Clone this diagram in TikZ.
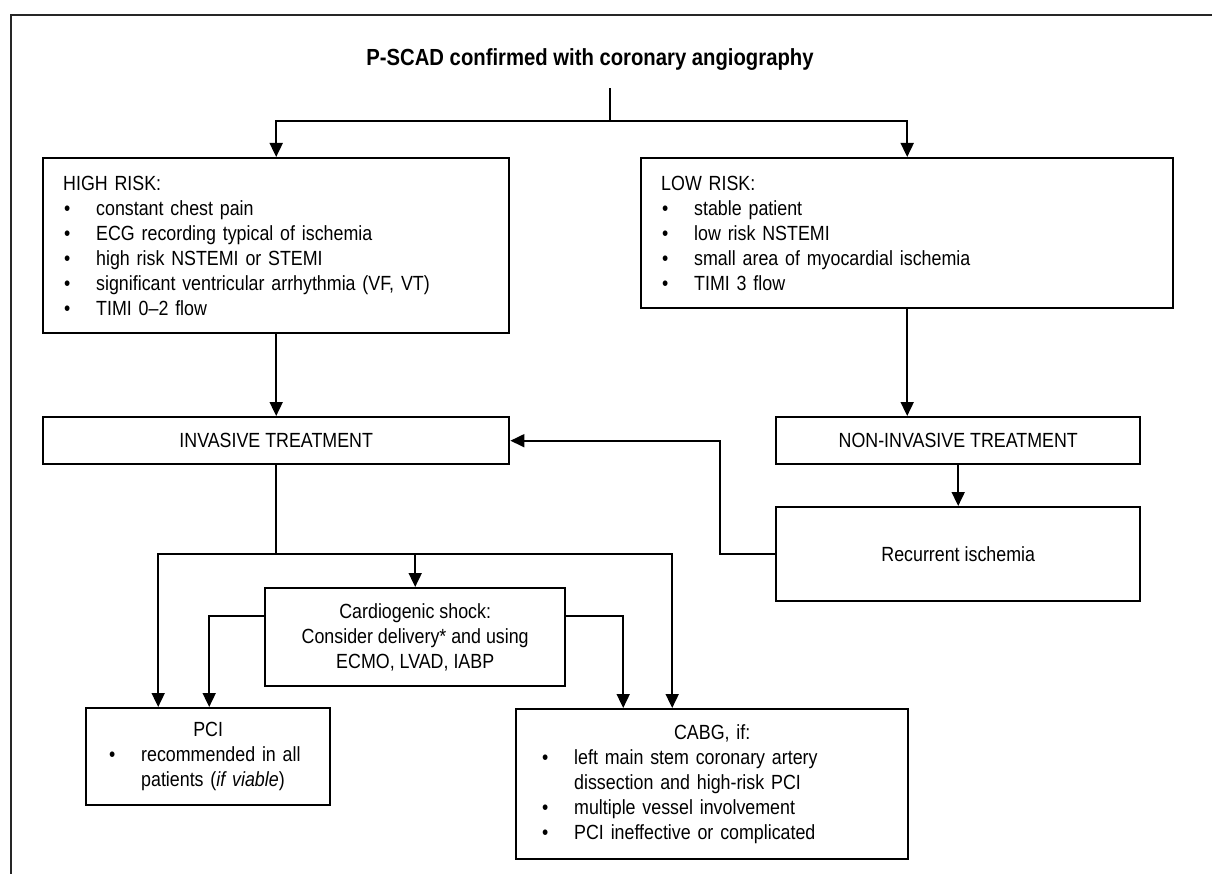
\documentclass[tikz,border=0pt]{standalone}
\usepackage{fontspec}
\setmainfont{Liberation Sans}[FakeStretch=0.87]
\usetikzlibrary{arrows.meta,positioning}

\tikzset{
  flowbox/.style={draw, line width=2.4pt, inner xsep=20pt, inner ysep=0pt},
  listbox/.style={flowbox, anchor=north west, align=left},
  conn/.style={line width=1.8pt},
}
\newcommand{\bul}{\makebox[33pt][l]{\hspace{1pt}\textbullet}}

\begin{document}
\begin{tikzpicture}[>={Triangle[length=14pt,width=13pt]},x=1pt,y=-1pt,font=\fontsize{20.5}{25}\selectfont]
	\useasboundingbox (0,0) rectangle (1212,874);
	\draw[line width=2.2pt,black!85] (11,874) -- (11,15) -- (1212,15);
	% top of the chart
	\node[font=\fontsize{23.3}{27}\selectfont\bfseries] (title) at (590,60) {P-SCAD confirmed with coronary angiography};
	\coordinate (split) at (610,121);
	\node[listbox,text width=426pt,minimum height=175pt] (high) at (42,157) {HIGH RISK:\\
		\bul constant chest pain\\
		\bul ECG recording typical of ischemia\\
		\bul high risk NSTEMI or STEMI\\
		\bul significant ventricular arrhythmia (VF, VT)\\
		\bul TIMI 0--2 flow};
	\node[listbox,text width=492pt,minimum height=150pt] (low) at (640,157) {LOW RISK:\\
		\bul stable patient\\
		\bul low risk NSTEMI\\
		\bul small area of myocardial ischemia\\
		\bul TIMI 3 flow};
	% treatment
	\node[flowbox,anchor=north west,minimum width=466pt,minimum height=47pt] (inv) at (42,416) {INVASIVE TREATMENT};
	\node[flowbox,anchor=north west,minimum width=364pt,minimum height=47pt] (noninv) at (775,416) {NON-INVASIVE TREATMENT};
	\node[flowbox,anchor=north west,minimum width=364pt,minimum height=94pt] (rec) at (775,506) {Recurrent ischemia};
	\node[flowbox,anchor=north west,minimum width=300pt,minimum height=98pt,align=center] (shock) at (264,587) {Cardiogenic shock:\\Consider delivery* and using\\ECMO, LVAD, IABP};
	\node[listbox,inner xsep=22pt,text width=200pt,minimum height=97pt] (pci) at (85,707) {\makebox[200pt]{PCI}\\
		\bul \mbox{recommended in all}\\
		\hspace*{33pt}patients (\textit{if viable})};
	\node[listbox,inner xsep=25pt,text width=342pt,minimum height=150pt] (cabg) at (515,708) {\makebox[342pt]{CABG, if:}\\
		\bul left main stem coronary artery\\
		\hspace*{33pt}dissection and high-risk PCI\\
		\bul multiple vessel involvement\\
		\bul PCI ineffective or complicated};
	\coordinate (fork) at (inv.south |- 0,554);
	% connectors
	\draw[conn] ([yshift=-14pt]title.south -| split) -- (split);
	\draw[conn,->] (split) -| (high.north);
	\draw[conn,->] (split) -| (low.north);
	\draw[conn,->] (high) -- (inv);
	\draw[conn,->] (low.south) -- (low.south |- noninv.north);
	\draw[conn,->] (noninv) -- (rec);
	\draw[conn,->] (rec.west) -- ++(-55,0) |- (inv.east);
	\draw[conn] (inv) -- (fork);
	\draw[conn,->] (fork) -| ([xshift=-50pt]pci.north);
	\draw[conn,->] (fork) -| ([xshift=-40pt]cabg.north);
	\draw[conn,->] (fork -| shock.north) -- (shock.north);
	\draw[conn,->] ([yshift=-29pt]shock.north west) -| ([xshift=1pt]pci.north);
	\draw[conn,->] ([yshift=-29pt]shock.north east) -| ([xshift=-89pt]cabg.north);
\end{tikzpicture}
\end{document}
